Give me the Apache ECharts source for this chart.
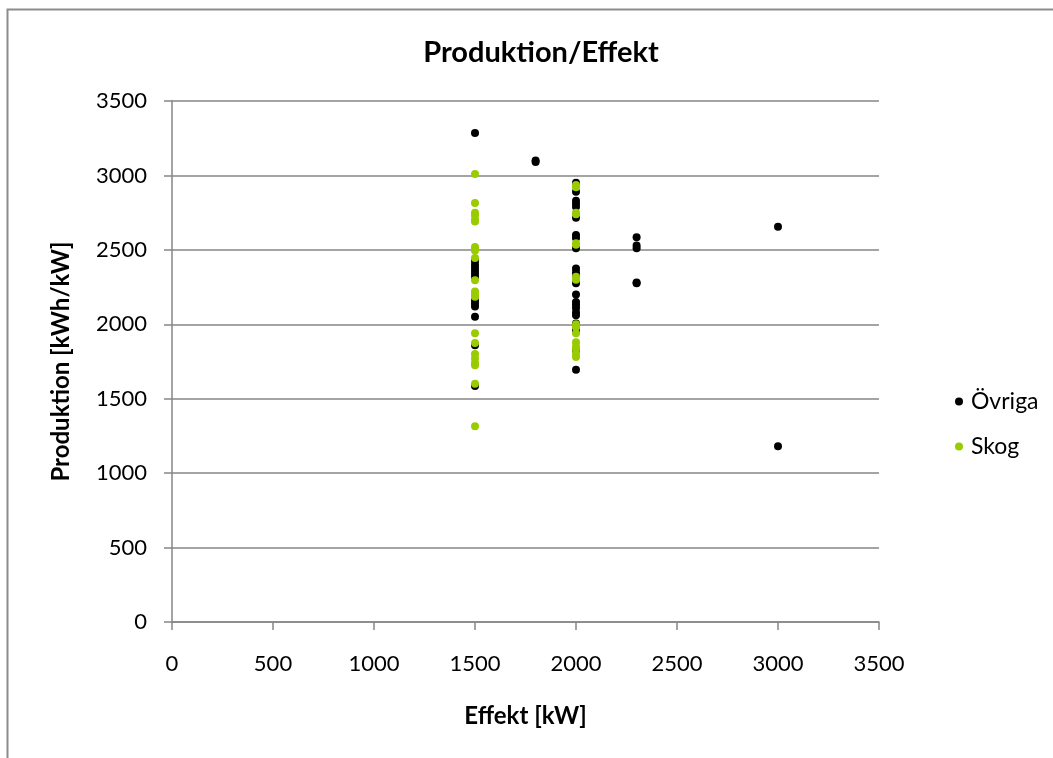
<!DOCTYPE html>
<html>
<head>
<meta charset="utf-8">
<title>Produktion/Effekt</title>
<script src="https://cdn.jsdelivr.net/npm/echarts@6/dist/echarts.min.js"></script>
<style>
  html, body { margin: 0; padding: 0; background: #fff; }
  #chart { width: 1053px; height: 758px; }
</style>
</head>
<body>
<div id="chart"></div>
<script>
// Effekt [kW] / Produktion [kWh/kW]
var ovrigaEffekt = [
  1500, 1500, 1500, 1500, 1500, 1500, 1500, 1500, 1500, 1500, 1500, 1500, 1500,
  1800, 1800,
  2000, 2000, 2000, 2000, 2000, 2000, 2000, 2000, 2000, 2000, 2000, 2000,
  2000, 2000, 2000, 2000, 2000, 2000, 2000, 2000, 2000, 2000, 2000,
  2300, 2300, 2300, 2300, 2300,
  3000, 3000
]
var ovrigaProduktion = [
  3285, 2425, 2400, 2380, 2360, 2340, 2320, 2160, 2140, 2120, 2050, 1860, 1585,
  3100, 3090,
  2950, 2890, 2830, 2810, 2790, 2715, 2600, 2580, 2510, 2375, 2350, 2330,
  2275, 2200, 2150, 2130, 2110, 2080, 2060, 2005, 1960, 1825, 1695,
  2585, 2530, 2510, 2280, 2275,
  2655, 1180
]
var skogEffekt = [
  1500, 1500, 1500, 1500, 1500, 1500, 1500, 1500, 1500, 1500, 1500,
  1500, 1500, 1500, 1500, 1500, 1500, 1500, 1500, 1500, 1500, 1500,
  2000, 2000, 2000, 2000, 2000, 2000, 2000, 2000,
  2000, 2000, 2000, 2000, 2000, 2000, 2000, 2000
]
var skogProduktion = [
  3010, 2815, 2750, 2730, 2700, 2690, 2520, 2505, 2495, 2445, 2295,
  2220, 2200, 2185, 1940, 1875, 1800, 1770, 1740, 1725, 1600, 1315,
  2935, 2920, 2750, 2740, 2545, 2535, 2320, 2300,
  2000, 1980, 1940, 1880, 1850, 1830, 1800, 1780
]
var seriesNames = ['Övriga', 'Skog']
var seriesColors = ['#000000', '#99cc00']

function pairs(xs, ys) {
  return xs.map(function (x, i) { return [x, ys[i]] })
}

// plain numbers, no thousand separators
function plain(v) {
  return String(v)
}

var font = 'Lato, "Open Sans", sans-serif'
var gridColor = '#868686'

var chart = echarts.init(document.getElementById('chart'), null, { renderer: 'canvas' })
chart.setOption({
  animation: false,
  backgroundColor: '#ffffff',
  textStyle: { fontFamily: font, color: '#000' },
  graphic: [
    {
      type: 'rect',
      shape: { x: 7.5, y: 9.5, width: 1200, height: 900 },
      style: { fill: 'none', stroke: '#8c8c8c', lineWidth: 2 },
      silent: true,
      z: -1
    }
  ],
  title: {
    text: 'Produktion/Effekt',
    left: 536,
    top: 33,
    textAlign: 'center',
    textStyle: { fontFamily: font, fontSize: 29, fontWeight: 'bold', color: '#000' }
  },
  legend: {
    orient: 'vertical',
    left: 950,
    top: 385,
    itemGap: 22,
    itemWidth: 8,
    itemHeight: 8,
    icon: 'circle',
    data: seriesNames,
    textStyle: { fontFamily: font, fontSize: 23, color: '#000', padding: [0, 0, 0, 3] }
  },
  grid: {
    left: 172,
    right: 174,
    top: 101,
    bottom: 136,
    containLabel: false
  },
  xAxis: {
    type: 'value',
    min: 0,
    max: 3500,
    interval: 500,
    name: 'Effekt [kW]',
    nameLocation: 'middle',
    nameGap: 82,
    nameTextStyle: { fontFamily: font, fontSize: 24, fontWeight: 'bold', color: '#000' },
    axisLine: { show: true, onZero: false, lineStyle: { color: gridColor, width: 1.5 } },
    axisTick: { show: true, inside: false, length: 8, lineStyle: { color: gridColor, width: 1.5 } },
    axisLabel: { margin: 31, fontFamily: font, fontSize: 22, color: '#000', formatter: plain },
    splitLine: { show: false }
  },
  yAxis: {
    type: 'value',
    min: 0,
    max: 3500,
    interval: 500,
    name: 'Produktion [kWh/kW]',
    nameLocation: 'middle',
    nameGap: 99,
    nameTextStyle: { fontFamily: font, fontSize: 24, fontWeight: 'bold', color: '#000' },
    axisLine: { show: true, onZero: false, lineStyle: { color: gridColor, width: 1.5 } },
    axisTick: { show: true, inside: false, length: 8, lineStyle: { color: gridColor, width: 1.5 } },
    axisLabel: { margin: 25, fontFamily: font, fontSize: 22, color: '#000', formatter: plain },
    splitLine: { show: true, lineStyle: { color: gridColor, width: 1.5 } }
  },
  series: [
    {
      name: seriesNames[0],
      type: 'scatter',
      symbol: 'circle',
      symbolSize: 8,
      itemStyle: { color: seriesColors[0], opacity: 1 },
      data: pairs(ovrigaEffekt, ovrigaProduktion)
    },
    {
      name: seriesNames[1],
      type: 'scatter',
      symbol: 'circle',
      symbolSize: 8,
      itemStyle: { color: seriesColors[1], opacity: 1 },
      data: pairs(skogEffekt, skogProduktion)
    }
  ]
})
</script>
</body>
</html>
